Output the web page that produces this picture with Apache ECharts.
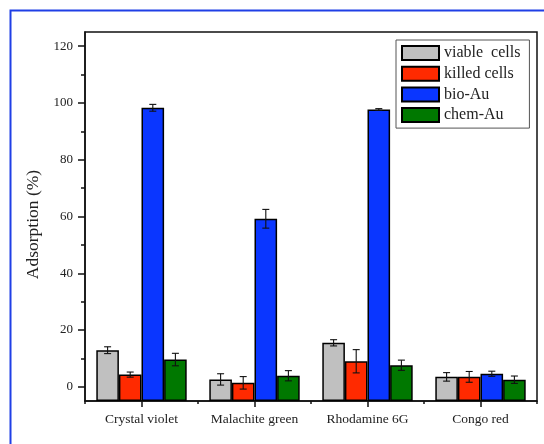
<!DOCTYPE html>
<html><head><meta charset="utf-8">
<script src="https://cdn.jsdelivr.net/npm/echarts@6/dist/echarts.min.js"></script>
<style>html,body{margin:0;padding:0;background:#fff}#c{width:544px;height:444px}</style>
</head><body><div id="c"></div>
<script>
const categories = ['Crystal violet', 'Malachite green', 'Rhodamine 6G', 'Congo red'];
const seriesNames = ['viable  cells', 'killed cells', 'bio-Au', 'chem-Au'];
const viable = [12.9, 2.6, 15.5, 3.5];
const viableErr = [1.2, 2.0, 1.1, 1.5];
const killed = [4.3, 1.4, 9.0, 3.5];
const killedErr = [0.9, 2.2, 4.1, 1.9];
const bioAu = [98.3, 59.2, 97.7, 4.6];
const bioAuErr = [1.2, 3.3, 0.3, 0.9];
const chemAu = [9.6, 3.9, 7.6, 2.5];
const chemAuErr = [2.2, 1.8, 1.8, 1.3];
const majorTicks = [0, 20, 40, 60, 80, 100, 120];
const minorTicks = [10, 30, 50, 70, 90, 110];

const colors = ['#c0c0c0', '#ff2a00', '#0a36ff', '#007800'];
const values = [viable, killed, bioAu, chemAu];
const errs = [viableErr, killedErr, bioAuErr, chemAuErr];
const FONT = "'Liberation Serif','Times New Roman',serif";
const nBars = 4, catFill = 0.8;

const series = [];
values.forEach((v, i) => {
  series.push({
    type: 'bar', name: seriesNames[i], data: v,
    barGap: '0%', barCategoryGap: '20%',
    itemStyle: { color: colors[i], borderColor: '#000', borderWidth: 1.5 },
    z: 2
  });
});
values.forEach((v, i) => {
  series.push({
    type: 'custom', name: seriesNames[i] + ' err', z: 5,
    data: v.map((val, k) => [k, val, errs[i][k]]),
    encode: { x: 0, y: 1 },
    renderItem: function (params, api) {
      const k = api.value(0), val = api.value(1), e = api.value(2);
      const c = api.coord([k, val]);
      const band = api.size([1, 0])[0];
      const bw = band * catFill / nBars;
      const x = c[0] + (i - (nBars - 1) / 2) * bw;
      const yTop = api.coord([k, val + e])[1];
      const yBot = api.coord([k, val - e])[1];
      const hw = 3.5;
      const st = { stroke: '#111', lineWidth: 1.1 };
      return { type: 'group', children: [
        { type: 'line', shape: { x1: x, y1: yTop, x2: x, y2: yBot }, style: st },
        { type: 'line', shape: { x1: x - hw, y1: yTop, x2: x + hw, y2: yTop }, style: st },
        { type: 'line', shape: { x1: x - hw, y1: yBot, x2: x + hw, y2: yBot }, style: st }
      ]};
    }
  });
});

const chart = echarts.init(document.getElementById('c'), null, { renderer: 'canvas' });
chart.setOption({
  animation: false,
  backgroundColor: '#fff',
  grid: { left: 85, top: 32, right: 7, bottom: 43, show: true, borderColor: '#111', borderWidth: 1.5, backgroundColor: 'transparent' },
  graphic: [{
    type: 'rect', shape: { x: 10.5, y: 10.5, width: 600, height: 600 },
    style: { fill: 'none', stroke: '#1f3fe6', lineWidth: 2 }, z: -10, silent: true
  }],
  legend: {
    data: seriesNames, orient: 'vertical', left: 396, top: 40,
    itemWidth: 37, itemHeight: 14, itemGap: 4.7,
    padding: [5, 9, 5, 5], borderColor: '#555', borderWidth: 1,
    backgroundColor: '#fff', icon: 'rect',
    textStyle: { fontFamily: FONT, fontSize: 16, color: '#222' }
  },
  xAxis: [{
    type: 'category', data: categories, position: 'bottom',
    axisLine: { show: true, onZero: false, lineStyle: { color: '#111', width: 1.5 } },
    axisTick: { show: true, alignWithLabel: true, interval: 0, length: 6, lineStyle: { color: '#111', width: 1.5 } },
    axisLabel: { interval: 0, hideOverlap: false, fontFamily: FONT, fontSize: 13.5, color: '#222', margin: 11 },
    splitLine: { show: false }
  }, {
    type: 'category', data: categories, position: 'bottom',
    axisLine: { show: false, onZero: false },
    axisTick: { show: true, interval: 0, length: 3, lineStyle: { color: '#111', width: 1.5 } },
    axisLabel: { show: false }, splitLine: { show: false }
  }],
  yAxis: [{
    type: 'value', min: -5, max: 125, startValue: -5, position: 'left',
    name: 'Adsorption (%)', nameLocation: 'middle', nameGap: 42,
    nameTextStyle: { fontFamily: FONT, fontSize: 17.5, color: '#222', padding: [0, 16, 0, 0] },
    axisLine: { show: true, onZero: false, lineStyle: { color: '#111', width: 1.5 } },
    axisTick: { show: true, customValues: majorTicks, length: 7, lineStyle: { color: '#111', width: 1.5 } },
    axisLabel: { customValues: majorTicks, fontFamily: FONT, fontSize: 13, color: '#222', margin: 12 },
    splitLine: { show: false }
  }, {
    type: 'value', min: -5, max: 125, position: 'left',
    axisLine: { show: false, onZero: false },
    axisTick: { show: true, customValues: minorTicks, length: 4, lineStyle: { color: '#111', width: 1.5 } },
    axisLabel: { show: false }, splitLine: { show: false }
  }],
  series: series
});
</script></body></html>
